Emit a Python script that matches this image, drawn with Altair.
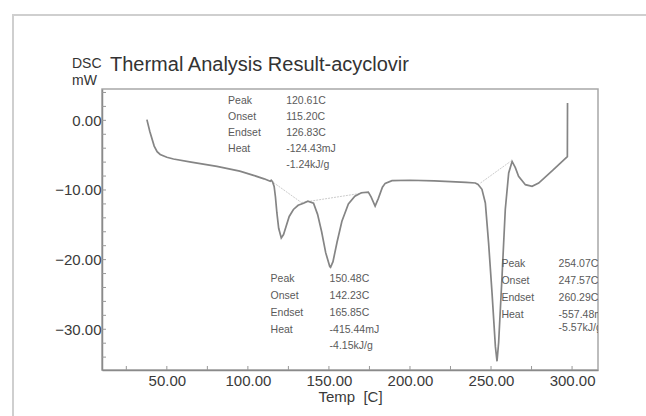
import altair as alt
import pandas as pd

# ---- DSC curve ----
temp = [37.7, 39.5, 42.2, 44.0, 45.9, 50.0, 54.1, 65.0, 80.9, 95.0, 103.5, 110.0,
        113.8, 114.4, 115.2, 116.2, 117.0, 117.9, 119.0, 120.6, 122.0, 123.6, 125.5,
        128.1, 131.0, 134.3, 137.0, 140.5, 143.0, 145.5, 148.0, 150.5, 151.0, 152.5,
        155.0, 158.0, 162.0, 166.0, 170.0, 174.3, 176.0, 178.5, 180.5, 183.0, 184.7,
        188.9, 200.0, 215.0, 225.0, 234.6, 240.3, 242.0, 244.4, 246.5, 248.5, 250.6,
        252.7, 253.7, 254.7, 256.8, 258.8, 260.9, 263.0, 265.0, 267.0, 271.2, 275.3,
        279.4, 288.0, 297.1, 297.2]
dsc = [0.1, -1.6, -3.7, -4.5, -4.9, -5.3, -5.55, -6.0, -6.6, -7.3, -7.9, -8.4,
       -8.76, -8.6, -8.8, -9.5, -11.0, -13.3, -15.5, -16.9, -16.4, -15.2, -13.8,
       -12.8, -12.2, -11.9, -11.6, -11.9, -13.5, -16.0, -19.0, -21.0, -21.1, -20.3,
       -17.5, -14.5, -12.0, -10.9, -10.4, -10.3, -11.0, -12.3, -11.2, -9.6, -9.05,
       -8.66, -8.6, -8.7, -8.8, -8.9, -9.0, -9.2, -9.9, -11.87, -17.6, -24.7,
       -32.5, -34.6, -31.9, -22.4, -12.8, -7.56, -5.9, -6.8, -8.05, -9.24, -9.48,
       -9.0, -7.2, -5.2, 2.5]

# ---- integration baselines ----
base_id = ["b1", "b1", "b2", "b2", "b3", "b3"]
base_t = [114.4, 133.0, 133.0, 172.0, 243.5, 262.0]
base_v = [-8.7, -11.8, -11.8, -10.4, -9.0, -5.9]

# ---- peak annotations ----
ann_names = ["Peak", "Onset", "Endset", "Heat", ""]
ann1_vals = ["120.61C", "115.20C", "126.83C", "-124.43mJ", "-1.24kJ/g"]
ann2_vals = ["150.48C", "142.23C", "165.85C", "-415.44mJ", "-4.15kJ/g"]
ann3_vals = ["254.07C", "247.57C", "260.29C", "-557.48mJ", "-5.57kJ/g"]
ann1_label_t, ann1_value_t = 87.8, 123.6
ann2_label_t, ann2_value_t = 114.0, 150.4
ann3_label_t, ann3_value_t = 256.4, 291.7
ann1_rows = [2.76, 0.46, -1.84, -4.14, -6.37]
ann2_rows = [-22.83, -25.26, -27.70, -30.14, -32.37]
ann3_rows = [-20.66, -23.07, -25.47, -27.92, -29.86]

# ---- axes ----
x_domain = [10, 316]
y_domain = [-35.85, 4.5]
x_labels = [50, 100, 150, 200, 250, 300]
y_labels = [0, -10, -20, -30]
x_minor = [25, 50, 75, 100, 125, 150, 175, 200, 225, 250, 275, 300]
y_minor = list(range(-34, 5, 2))

W, H = 496, 281
FONT = "Liberation Sans"

xs = alt.Scale(domain=x_domain, nice=False, zero=False)
ys = alt.Scale(domain=y_domain, nice=False, zero=False)

x_axis = alt.Axis(values=x_labels, format=".2f", ticks=False, grid=False,
                  labelFontSize=15, labelFont=FONT, labelColor="#3a3a3a",
                  labelPadding=3, domainColor="#8a8a8a", domainWidth=1.5,
                  title="Temp\u00a0\u00a0[C]", titleFont=FONT, titleFontSize=15,
                  titleFontWeight="normal", titleColor="#3a3a3a", titlePadding=1)
y_axis = alt.Axis(values=y_labels, format=".2f", ticks=False, grid=False,
                  labelFontSize=15, labelFont=FONT, labelColor="#3a3a3a",
                  labelPadding=1, domainColor="#8a8a8a", domainWidth=1.5,
                  title="")

X = alt.X("T:Q", scale=xs, axis=x_axis)
Y = alt.Y("V:Q", scale=ys, axis=y_axis)

curve_df = pd.DataFrame({"T": temp, "V": dsc})
base_df = pd.DataFrame({"id": base_id, "T": base_t, "V": base_v})

rows = []
for names_t, vals_t, vals, ys_ in [
    (ann1_label_t, ann1_value_t, ann1_vals, ann1_rows),
    (ann2_label_t, ann2_value_t, ann2_vals, ann2_rows),
    (ann3_label_t, ann3_value_t, ann3_vals, ann3_rows),
]:
    for n, v, yy in zip(ann_names, vals, ys_):
        if n:
            rows.append({"T": names_t, "V": yy, "txt": n})
        rows.append({"T": vals_t, "V": yy, "txt": v})
ann_df = pd.DataFrame(rows)

frame = alt.Chart(pd.DataFrame({"a": [0]})).mark_rect(
    fill=None, stroke="#cfcfcf", strokeWidth=2
).encode(x=alt.value(-89), y=alt.value(-74), x2=alt.value(700), y2=alt.value(500))

baselines = alt.Chart(base_df).mark_line(
    color="#cccccc", strokeWidth=1, strokeDash=[2, 1]
).encode(x=X, y=Y, detail="id:N")

curve = alt.Chart(curve_df).transform_window(idx="row_number()").mark_line(
    color="#858585", strokeWidth=1.7
).encode(x=X, y=Y, order="idx:Q")

xticks = alt.Chart(pd.DataFrame({"T": x_minor})).mark_rule(
    color="#999", strokeWidth=1
).encode(x=X, y=alt.value(H), y2=alt.value(H - 4))

yticks = alt.Chart(pd.DataFrame({"V": y_minor})).mark_rule(
    color="#999", strokeWidth=1
).encode(y=Y, x=alt.value(0), x2=alt.value(4))

ann = alt.Chart(ann_df).mark_text(
    align="left", baseline="middle", font=FONT, fontSize=10.5, color="#5a5a5a",
    clip=True
).encode(x=X, y=Y, text="txt:N")

one = pd.DataFrame({"a": [0]})
title_main = alt.Chart(one).mark_text(
    align="left", baseline="alphabetic", font=FONT, fontSize=20, color="#333"
).encode(x=alt.value(8), y=alt.value(-18), text=alt.value("Thermal Analysis Result-acyclovir"))
title_dsc = alt.Chart(one).mark_text(
    align="left", baseline="middle", font=FONT, fontSize=14, color="#333"
).encode(x=alt.value(-30), y=alt.value(-25), text=alt.value("DSC"))
title_mw = alt.Chart(one).mark_text(
    align="left", baseline="middle", font=FONT, fontSize=14, color="#333"
).encode(x=alt.value(-30), y=alt.value(-8), text=alt.value("mW"))

chart = alt.layer(
    frame, baselines, curve, xticks, yticks, ann, title_main, title_dsc, title_mw
).properties(
    width=W, height=H,
    autosize=alt.AutoSizeParams(type="none"),
    padding={"left": 102, "top": 89, "right": 48, "bottom": 46},
    background="white",
).configure_view(stroke="#a8a8a8", strokeWidth=1.5)

chart.save("out.html", embed_options={"renderer": "svg", "actions": False})
